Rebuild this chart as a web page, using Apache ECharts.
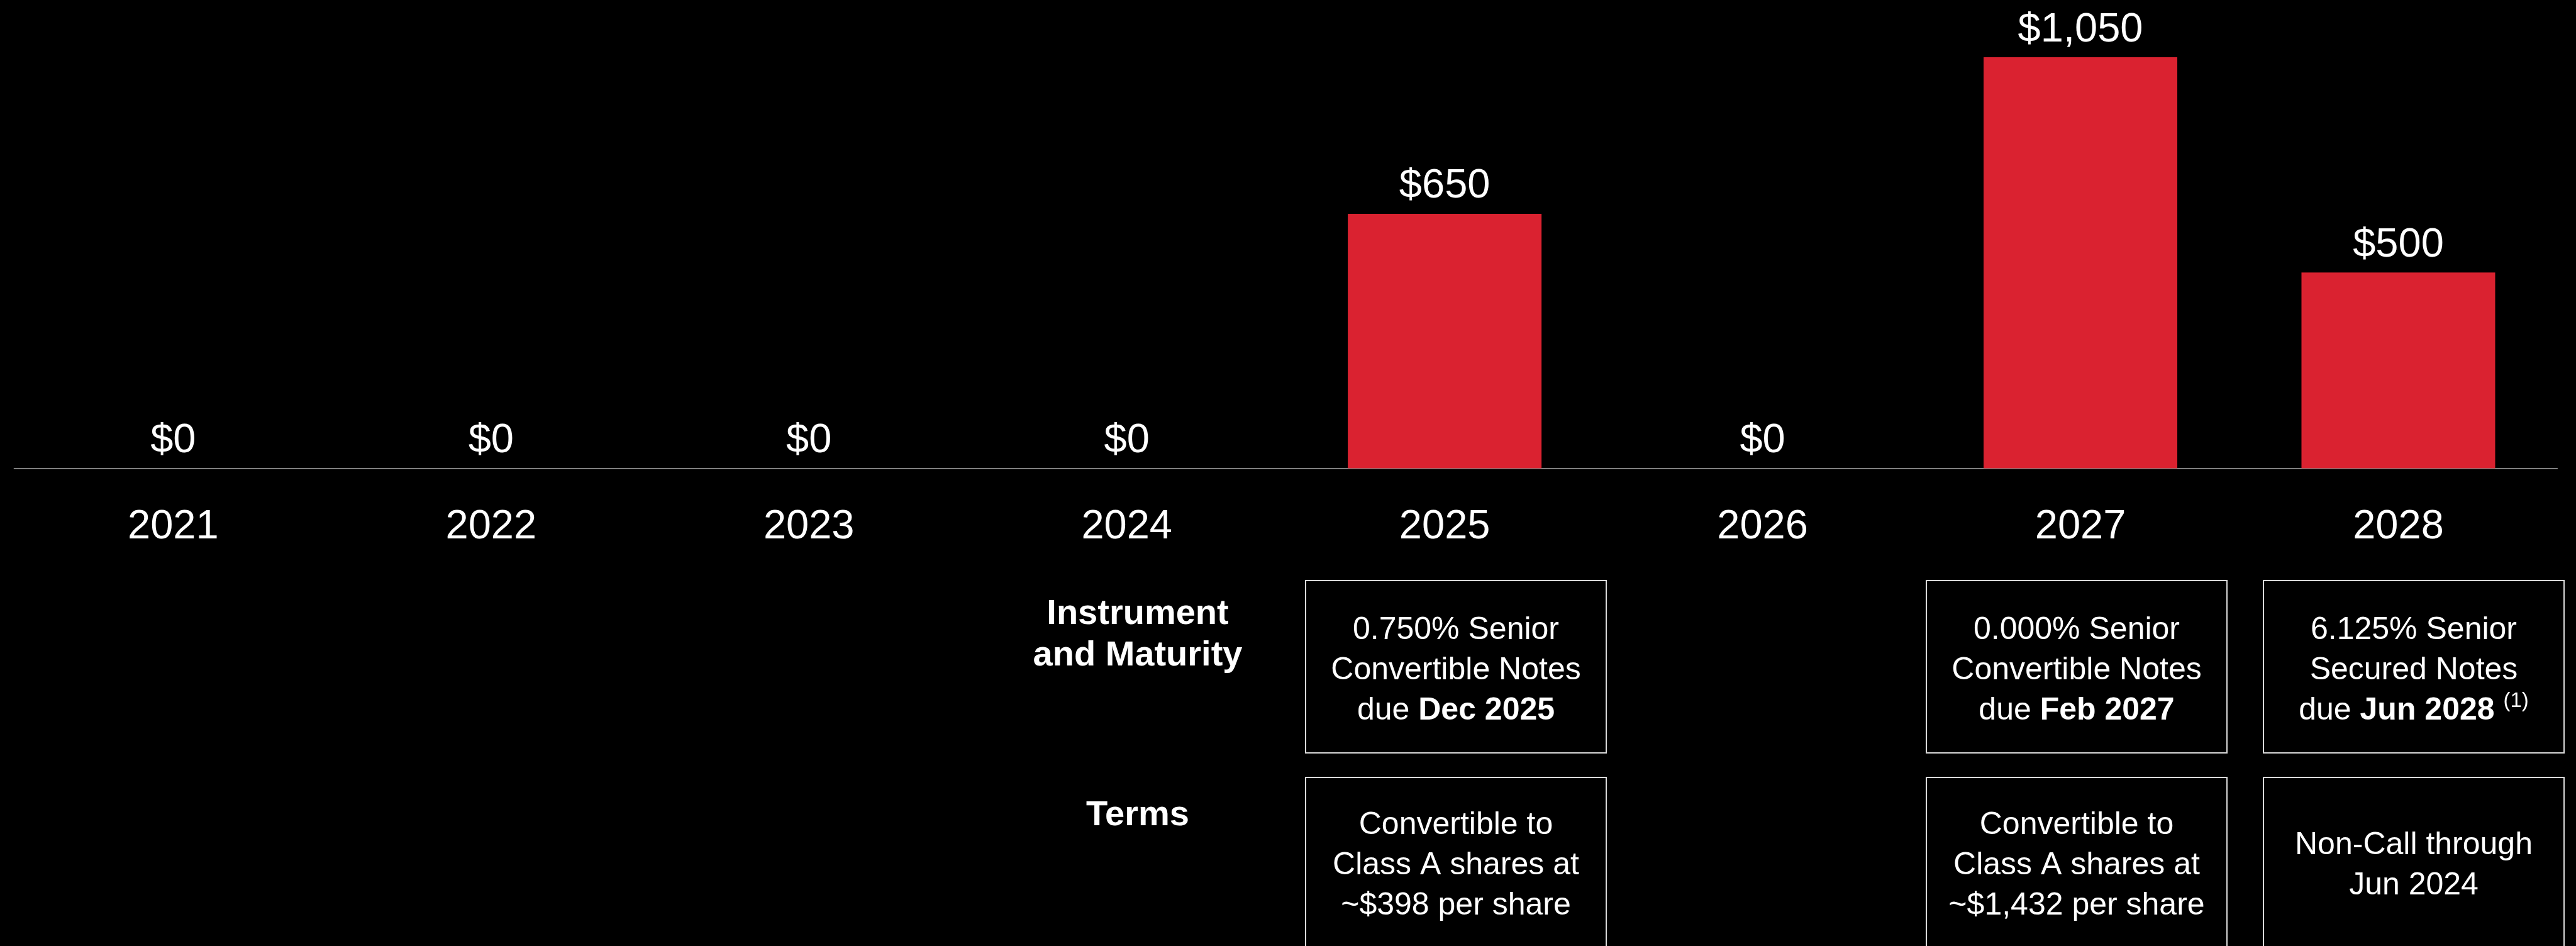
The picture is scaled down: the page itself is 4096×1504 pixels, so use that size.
<!DOCTYPE html>
<html>
<head>
<meta charset="utf-8">
<script src="https://cdn.jsdelivr.net/npm/echarts@6/dist/echarts.min.js"></script>
<style>
html,body{margin:0;padding:0;background:#000;}
#chart{width:4096px;height:1504px;}
</style>
</head>
<body>
<div id="chart"></div>
<script>
const years = ['2021', '2022', '2023', '2024', '2025', '2026', '2027', '2028'];
const amounts = [0, 0, 0, 0, 650, 0, 1050, 500];
const rowLabels = ['Instrument\nand Maturity', 'Terms'];
const instruments = [
  '0.750% Senior\nConvertible Notes\ndue {b|Dec 2025}',
  '0.000% Senior\nConvertible Notes\ndue {b|Feb 2027}',
  '6.125% Senior\nSecured Notes\ndue {b|Jun 2028} {sup|(1)}'
];
const terms = [
  'Convertible to\nClass A shares at\n~$398 per share',
  'Convertible to\nClass A shares at\n~$1,432 per share',
  'Non-Call through\nJun 2024'
];

const FONT = '"Liberation Sans", Arial, Helvetica, sans-serif';
const chart = echarts.init(document.getElementById('chart'));

// box layout (annotation graphics)
const boxX = [2076, 3063, 3599];
const boxW = 478, boxH = 274;
const row1Top = 923, row2Top = 1236;

const graphics = [];
const richStyles = {
  b: { fontWeight: 'bold', fontSize: 50, fontFamily: FONT, fill: '#fff', lineHeight: 64 },
  sup: { fontSize: 33, fontFamily: FONT, fill: '#fff', lineHeight: 44, verticalAlign: 'top' }
};
for (let i = 0; i < 3; i++) {
  [[row1Top, instruments[i], 6], [row2Top, terms[i], 3]].forEach(([top, txt, dy]) => {
    graphics.push({
      type: 'rect',
      shape: { x: boxX[i], y: top, width: boxW, height: boxH },
      style: { fill: 'transparent', stroke: '#d9d9d9', lineWidth: 2 }
    });
    graphics.push({
      type: 'text',
      x: boxX[i] + boxW / 2,
      y: top + boxH / 2 + dy,
      style: {
        text: txt,
        fill: '#fff',
        fontSize: 50,
        fontFamily: FONT,
        lineHeight: 64,
        align: 'center',
        verticalAlign: 'middle',
        textAlign: 'center',
        textVerticalAlign: 'middle',
        rich: richStyles
      }
    });
  });
}
graphics.push({
  type: 'text', x: 1809, y: 1010,
  style: { text: rowLabels[0], fill: '#fff', fontSize: 56, fontWeight: 'bold', fontFamily: FONT,
    lineHeight: 66, align: 'center', verticalAlign: 'middle', textAlign: 'center', textVerticalAlign: 'middle' }
});
graphics.push({
  type: 'text', x: 1809, y: 1297,
  style: { text: rowLabels[1], fill: '#fff', fontSize: 56, fontWeight: 'bold', fontFamily: FONT,
    lineHeight: 66, align: 'center', verticalAlign: 'middle', textAlign: 'center', textVerticalAlign: 'middle' }
});

chart.setOption({
  backgroundColor: '#000',
  animation: false,
  grid: { left: 22.6, right: 29.8, top: 60, bottom: 759.5, containLabel: false },
  xAxis: {
    type: 'category',
    data: years,
    axisLine: { show: true, lineStyle: { color: '#808080', width: 2 } },
    axisTick: { show: false },
    axisLabel: { color: '#fff', fontSize: 65, fontFamily: FONT, margin: 61 }
  },
  yAxis: {
    type: 'value', min: 0, max: 1100, interval: 100,
    show: false, splitLine: { show: false }
  },
  series: [{
    type: 'bar',
    data: amounts,
    barWidth: 308,
    itemStyle: { color: '#DA2230' },
    label: {
      show: true,
      position: 'top',
      distance: 11,
      color: '#fff',
      fontSize: 65,
      fontFamily: FONT,
      formatter: p => '$' + p.value.toLocaleString('en-US')
    }
  }],
  graphic: graphics
});
</script>
</body>
</html>
